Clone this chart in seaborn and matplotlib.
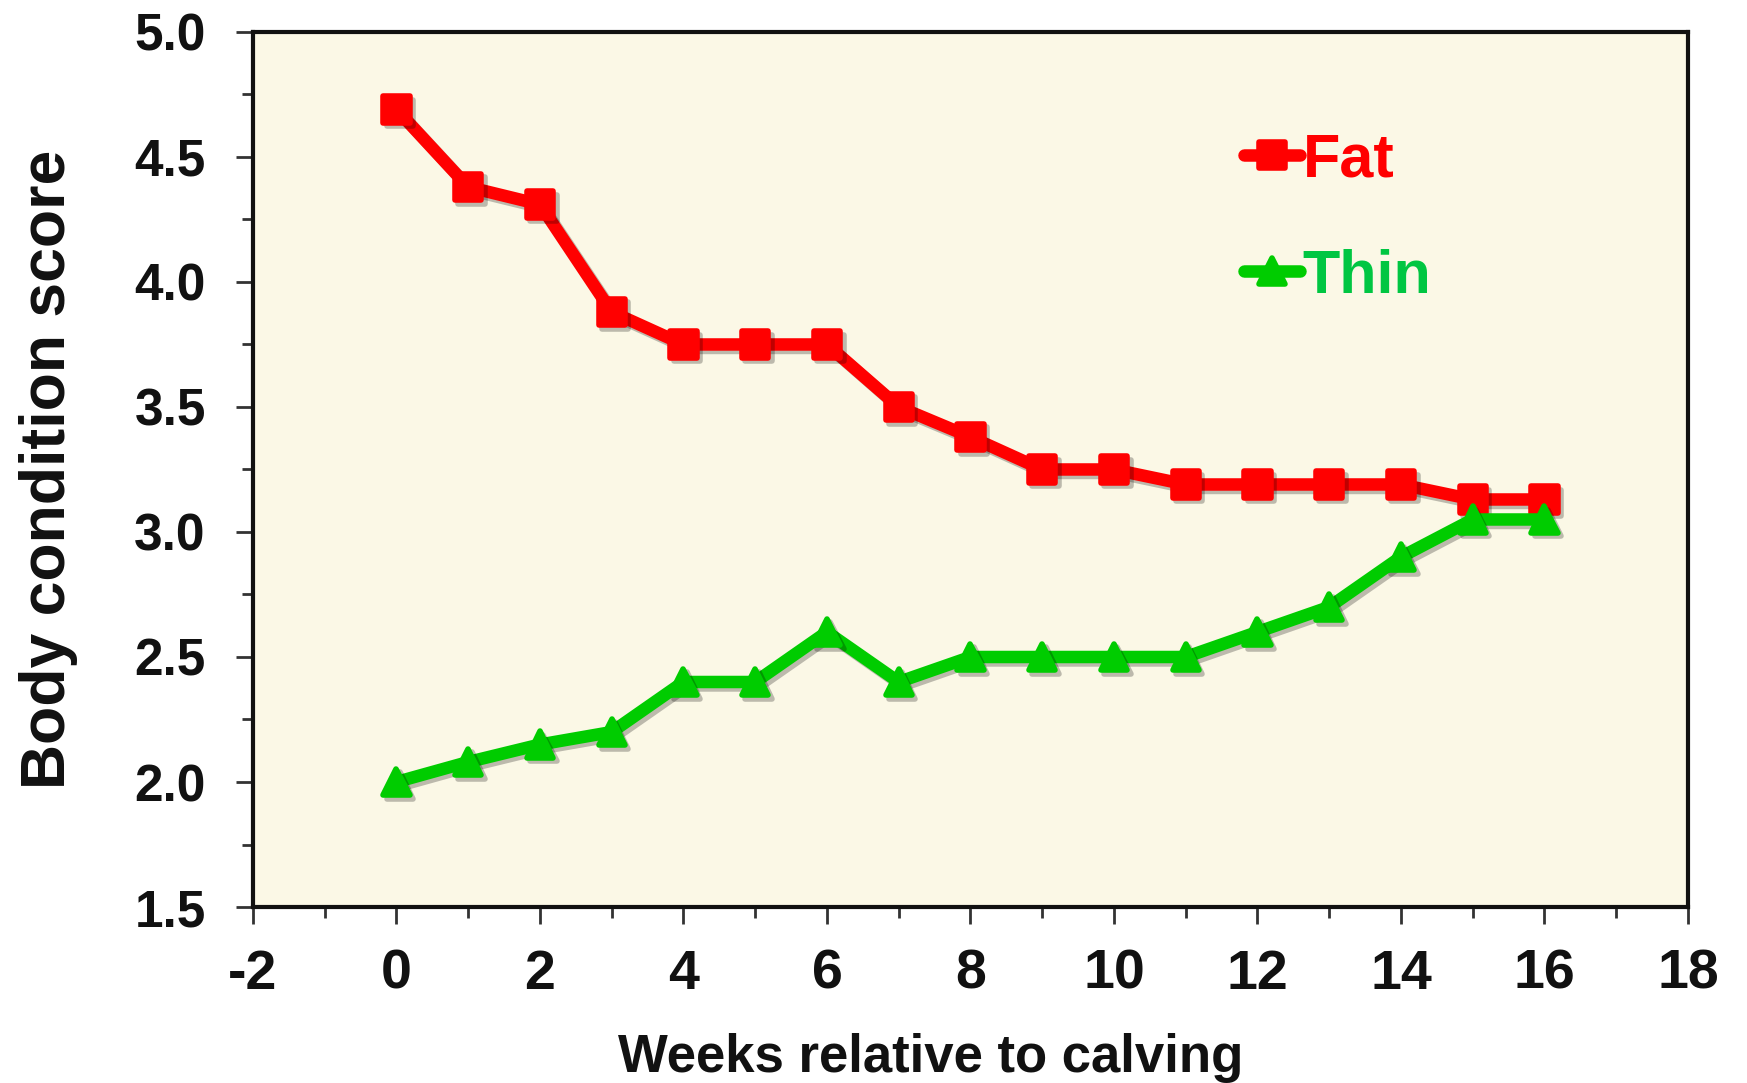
import pandas as pd
import matplotlib.pyplot as plt
import matplotlib.patheffects as pe
from matplotlib.markers import MarkerStyle
from matplotlib.lines import Line2D
from matplotlib.ticker import MultipleLocator, FormatStrFormatter
import seaborn as sns

# datos
semanas = list(range(0, 17))
fat = [4.69, 4.38, 4.31, 3.88, 3.75, 3.75, 3.75, 3.50, 3.38,
       3.25, 3.25, 3.19, 3.19, 3.19, 3.19, 3.13, 3.13]
thin = [2.00, 2.08, 2.15, 2.20, 2.40, 2.40, 2.60, 2.40, 2.50,
        2.50, 2.50, 2.50, 2.60, 2.70, 2.90, 3.05, 3.05]
grupos = ['Fat', 'Thin']

df = pd.concat([
    pd.DataFrame({'semana': semanas, 'bcs': fat, 'grupo': 'Fat'}),
    pd.DataFrame({'semana': semanas, 'bcs': thin, 'grupo': 'Thin'}),
])

rojo = '#FF0000'
verde = '#00CC00'
verde_texto = '#00C642'

sns.set_style('ticks')
plt.rcParams['font.family'] = ['Liberation Sans', 'DejaVu Sans']
plt.rcParams['font.weight'] = 'bold'
plt.rcParams['axes.unicode_minus'] = False

fig = plt.figure(figsize=(17.47, 10.83), dpi=100)
ax = fig.add_axes([0.1448, 0.1625, 0.9662 - 0.1448, 0.9705 - 0.1625])
ax.set_facecolor('#FBF8E6')

marcadores = {'Fat': MarkerStyle('s', joinstyle='round'),
              'Thin': MarkerStyle('^', joinstyle='round')}
sombra = [pe.SimpleLineShadow(offset=(2.5, -2.5), shadow_color='black', alpha=0.25),
          pe.Normal()]

sns.lineplot(data=df, x='semana', y='bcs', hue='grupo', style='grupo',
             palette={'Fat': rojo, 'Thin': verde}, markers=marcadores,
             dashes=False, linewidth=9, markersize=19, markeredgewidth=4,
             legend=False, ax=ax)
for linea, g in zip(ax.lines, grupos):
    c = rojo if g == 'Fat' else verde
    linea.set_markeredgecolor(c)
    linea.set_path_effects(sombra)
    linea.set_solid_joinstyle('round')

ax.set_xlim(-2, 18)
ax.set_ylim(1.5, 5.0)
ax.xaxis.set_major_locator(MultipleLocator(2))
ax.xaxis.set_minor_locator(MultipleLocator(1))
ax.yaxis.set_major_locator(MultipleLocator(0.5))
ax.yaxis.set_minor_locator(MultipleLocator(0.25))
ax.yaxis.set_major_formatter(FormatStrFormatter('%.1f'))

for lado in ['left', 'bottom', 'top', 'right']:
    ax.spines[lado].set_visible(True)
    ax.spines[lado].set_color('#111111')
    ax.spines[lado].set_linewidth(3)

ax.tick_params(axis='both', which='major', direction='out', length=12,
               width=2, color='#333333')
ax.tick_params(axis='both', which='minor', direction='out', length=8,
               width=2, color='#333333')
ax.tick_params(axis='y', which='major', labelsize=37, pad=22, labelcolor='#111111')
ax.tick_params(axis='x', which='major', labelsize=40, pad=18, labelcolor='#111111')
for t in ax.get_xticklabels() + ax.get_yticklabels():
    t.set_fontweight('bold')

ax.set_xlabel('Weeks relative to calving', fontsize=38, fontweight='bold', color='#111111')
ax.set_ylabel('Body condition score', fontsize=45, fontweight='bold', color='#111111')
ax.xaxis.set_label_coords(0.4725, -0.144)
ax.yaxis.set_label_coords(-0.122, 0.5)

# leyenda
manijas = [Line2D([], [], color=rojo, lw=9, marker=marcadores['Fat'], markersize=19,
                  markeredgewidth=4, markeredgecolor=rojo, solid_capstyle='round'),
           Line2D([], [], color=verde, lw=9, marker=marcadores['Thin'], markersize=19,
                  markeredgewidth=4, markeredgecolor=verde, solid_capstyle='round')]
ax.legend(manijas, grupos, loc='upper left', bbox_to_anchor=(0.652, 0.948),
          frameon=False, handlelength=0.92, handletextpad=0.05,
          labelspacing=0.97, labelcolor=[rojo, verde_texto],
          prop={'weight': 'bold', 'size': 44})

fig.savefig('out.png', dpi=100)
